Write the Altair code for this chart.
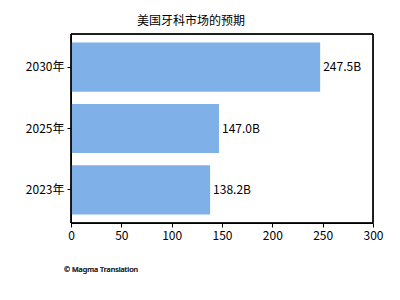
import altair as alt
import pandas as pd

# Projected US dental market size (billions USD)
years = ["2030年", "2025年", "2023年"]
values = [247.5, 147.0, 138.2]
labels = ["247.5B", "147.0B", "138.2B"]

df = pd.DataFrame({"year": years, "value": values, "label": labels})

FONT = "Noto Sans CJK SC"

y_enc = alt.Y(
    "year:N",
    sort=years,
    title=None,
    scale=alt.Scale(paddingInner=0.2, paddingOuter=0.14),
    axis=alt.Axis(labelFontSize=12, labelFont=FONT, labelColor="black",
                  tickColor="black", domainColor="black", tickSize=4, labelPadding=3),
)
x_enc = alt.X(
    "value:Q",
    title=None,
    scale=alt.Scale(domain=[0, 300], nice=False),
    axis=alt.Axis(values=[0, 50, 100, 150, 200, 250, 300], grid=False,
                  labelFlush=False, labelOverlap=False,
                  labelFontSize=12, labelFont=FONT, labelColor="black",
                  tickColor="black", domainColor="black", tickSize=4, labelPadding=3),
)

bars = alt.Chart(df).mark_bar(color="#7fb1e8").encode(x=x_enc, y=y_enc)

text = alt.Chart(df).mark_text(
    align="left", baseline="middle", dx=3, fontSize=12, font=FONT, color="black"
).encode(x="value:Q", y=alt.Y("year:N", sort=years), text="label:N")

# plot-area frame (top and right edges; the axes draw the other two)
frame = alt.Chart(df).mark_rect(filled=False, stroke="black", strokeWidth=1).encode(
    x=alt.value(0), x2=alt.value(302), y=alt.value(0), y2=alt.value(189)
)

credit = alt.Chart(df).mark_text(
    align="left", baseline="middle", fontSize=7.3, font="Noto Sans", fontWeight="normal",
    color="#333333"
).encode(x=alt.value(-7), y=alt.value(236), text=alt.value("© Magma Translation"))

chart = (
    alt.layer(bars, text, frame, credit)
    .properties(
        width=302,
        height=189,
        autosize=alt.AutoSizeParams(type="none"),
        padding={"left": 71, "top": 34, "right": 27, "bottom": 77},
        title=alt.TitleParams(
            "美国牙科市场的预期", fontSize=12, font=FONT, fontWeight="normal",
            color="black", anchor="middle", dx=-31, offset=6,
        ),
    )
    .configure_view(stroke=None)
    .configure(background="white")
)

chart.save("out.html", embed_options={"renderer": "svg", "actions": False})
